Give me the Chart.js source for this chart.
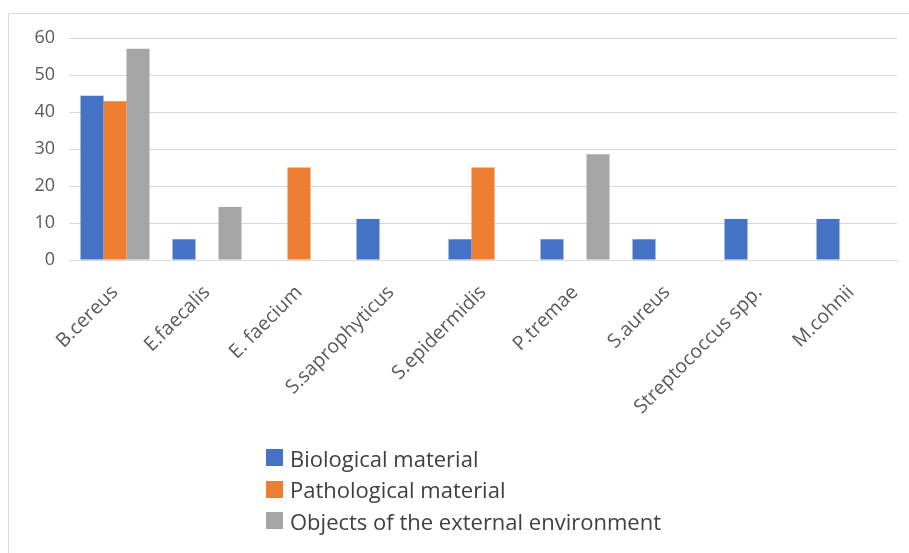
<!DOCTYPE html>
<html>
<head>
<meta charset="utf-8">
<script src="https://cdn.jsdelivr.net/npm/chart.js@4/dist/chart.umd.min.js"></script>
<style>
  html, body { margin: 0; padding: 0; background: #fff; }
  body { width: 909px; height: 553px; position: relative; overflow: hidden; }
  #frame { position: absolute; left: 8px; top: 13px; width: 920px; height: 560px; border: 1px solid #d9d9d9; box-sizing: border-box; }
  #c { position: absolute; left: 0; top: 0; }
  #legend { position: absolute; left: 266px; top: 442px; font-family: "Open Sans", sans-serif; font-size: 22px; color: #404040; }
  .li { display: flex; align-items: center; height: 31.5px; white-space: nowrap; }
  .sw { width: 17px; height: 17px; margin-right: 7px; flex: none; }
</style>
</head>
<body>
<div id="frame"></div>
<canvas id="c" width="909" height="553"></canvas>
<div id="legend"></div>
<script>
const categories = ['B.cereus', 'E.faecalis', 'E. faecium', 'S.saprophyticus', 'S.epidermidis', 'P.tremae', 'S.aureus', 'Streptococcus spp.', 'M.cohnii'];
const seriesNames = ['Biological material', 'Pathological material', 'Objects of the external environment'];
const biological = [44.4, 5.6, null, 11.1, 5.6, 5.6, 5.6, 11.1, 11.1];
const pathological = [42.9, null, 25, null, 25, null, null, null, null];
const environment = [57.1, 14.3, null, null, null, 28.6, null, null, null];
const yTicks = [0, 10, 20, 30, 40, 50, 60];
const colors = ['#4472C4', '#ED7D31', '#A5A5A5'];

const chart = new Chart(document.getElementById('c'), {
  type: 'bar',
  data: {
    labels: categories,
    datasets: [
      { label: seriesNames[0], data: biological, backgroundColor: colors[0] },
      { label: seriesNames[1], data: pathological, backgroundColor: colors[1] },
      { label: seriesNames[2], data: environment, backgroundColor: colors[2] }
    ]
  },
  options: {
    responsive: false,
    devicePixelRatio: 1,
    animation: false,
    layout: { padding: { left: 0, right: 12, top: 38, bottom: 133 } },
    datasets: { bar: { barPercentage: 1, categoryPercentage: 0.75 } },
    plugins: { legend: { display: false }, tooltip: { enabled: false } },
    scales: {
      x: {
        grid: { display: false },
        border: { color: '#d9d9d9' },
        ticks: {
          autoSkip: false, maxRotation: 45, minRotation: 45,
          color: '#595959', padding: 13,
          font: { family: 'Open Sans', size: 19.5 }
        },
        afterFit(scale) { scale.height = 160; }
      },
      y: {
        min: 0, max: 60,
        afterBuildTicks(scale) { scale.ticks = yTicks.map(v => ({ value: v })); },
        grid: { color: '#d9d9d9', drawTicks: false, lineWidth: 1 },
        border: { display: false },
        ticks: { color: '#595959', padding: 14, font: { family: 'Open Sans', size: 18 } },
        afterFit(scale) { scale.width = 69; }
      }
    }
  }
});

const legend = document.getElementById('legend');
chart.data.datasets.forEach(ds => {
  const row = document.createElement('div');
  row.className = 'li';
  const sw = document.createElement('span');
  sw.className = 'sw';
  sw.style.background = ds.backgroundColor;
  const tx = document.createElement('span');
  tx.textContent = ds.label;
  row.appendChild(sw);
  row.appendChild(tx);
  legend.appendChild(row);
});
</script>
</body>
</html>
